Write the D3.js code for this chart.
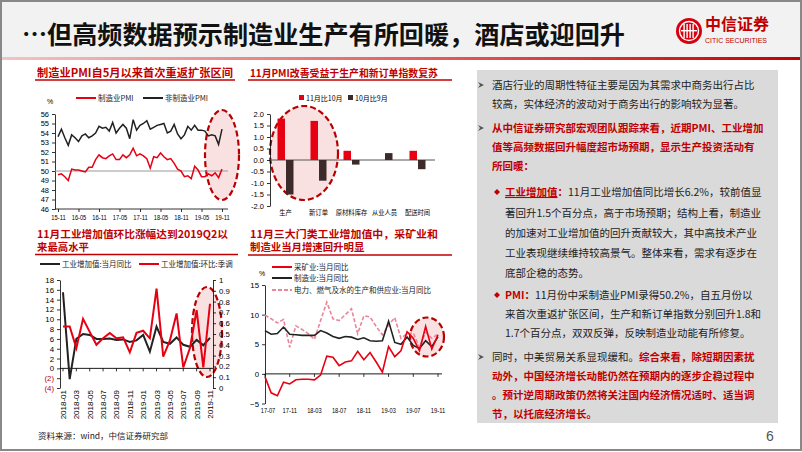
<!DOCTYPE html>
<html><head><meta charset="utf-8">
<script src="https://cdn.jsdelivr.net/npm/d3@7"></script>
<style>
body{margin:0;background:#fff;}
svg{display:block;}
</style></head><body>
<svg id="c" width="802" height="452"></svg>
<script>
// ---------------- DATA ----------------
// Chart 1: PMI, monthly 2015-11 .. 2019-11
const pmiTicks = ["15-11","16-05","16-11","17-05","17-11","18-05","18-11","19-05","19-11"];
const mfgPMI = [49.6,49.7,49.4,49.0,50.2,50.1,50.1,50.0,49.9,50.4,50.4,51.2,51.7,51.4,51.3,51.6,51.8,51.2,51.2,51.7,51.4,51.7,52.4,51.6,51.8,51.6,51.3,50.3,51.5,51.4,51.9,51.5,51.2,51.3,50.8,50.2,50.0,49.4,49.5,49.2,50.5,50.1,49.4,49.4,49.7,49.5,49.8,49.3,50.2];
const nonMfgPMI = [53.6,54.4,53.5,52.7,53.8,53.5,53.1,53.7,53.9,53.5,53.7,54.0,54.7,54.5,54.6,54.2,55.1,54.0,54.5,54.9,54.5,53.4,55.4,54.3,54.8,55.0,55.3,54.4,54.6,54.8,54.9,55.0,54.0,54.2,54.9,53.9,53.4,53.8,54.7,54.3,54.8,54.3,54.3,54.2,53.7,53.8,53.7,52.8,54.4];
const pmiYTicks = [46,47,48,49,50,51,52,53,54,55,56];

// Chart 2: PMI sub-indices changes
const subCats = ["生产","新订单","原材料库存","从业人员","配送时间"];
const novVsOct = [1.8,1.7,0.4,0.0,0.4];
const octVsSep = [-1.5,-0.9,-0.2,0.3,-0.4];
const subYTicks = [-2,-1.5,-1,-0.5,0,0.5,1,1.5,2];

// Chart 3: industrial value added, monthly 2018-01 .. 2019-11
const ipTicks = ["2018-01","2018-03","2018-05","2018-07","2018-09","2018-11","2019-01","2019-03","2019-05","2019-07","2019-09","2019-11"];
const ipYoY = [15.5,-2.2,6.0,7.0,6.8,6.0,6.0,6.1,5.8,5.9,5.4,5.7,6.8,3.4,8.5,5.4,5.0,6.3,4.8,4.4,5.8,4.7,6.2];
const ipMoM = [0.57,0.57,0.37,0.64,0.52,0.40,0.46,0.51,0.46,0.47,0.33,0.51,0.53,0.46,0.92,0.29,0.44,0.69,0.19,0.37,0.72,0.19,0.78];
const ipLeftTicks = [-4,-2,0,2,4,6,8,10,12,14,16,18];
const ipRightTicks = [0,0.1,0.2,0.3,0.4,0.5,0.6,0.7,0.8,0.9,1];

// Chart 4: three sectors, monthly 2017-07 .. 2019-11
const secTicks = ["17-07","17-11","18-03","18-07","18-11","19-03","19-07","19-11"];
const mining = [-0.5,-3.2,-3.7,-1.4,-1.7,-1.0,-0.9,-0.9,-1.0,-0.2,3.0,2.8,1.4,2.0,2.2,3.8,2.4,3.6,2.0,0.3,4.6,2.9,3.9,7.1,6.0,3.9,8.0,4.2,6.6];
const manufacturing = [7.3,6.7,6.8,7.9,6.7,6.6,6.5,6.5,6.5,7.3,6.9,6.3,6.0,6.3,6.2,5.8,6.1,5.6,5.5,5.6,8.9,5.3,5.0,6.2,4.8,4.3,5.6,4.6,6.3];
const utilities = [9.9,9.3,8.6,9.2,4.5,8.1,7.5,6.8,5.8,9.0,12.1,9.3,9.0,10.0,11.0,6.8,9.8,9.6,8.0,6.6,8.2,9.5,6.0,6.8,6.9,4.5,7.0,6.0,6.7];
const secYTicks = [-5,0,5,10,15];

// ---------------- DRAWING ----------------
const svg = d3.select("#c");
const RED = "#e60012", DRED = "#c00000", BLK = "#222", PINK = "#e8879b", BARK = "#3d2b2b";
const CJK = '"Noto Sans CJK SC","Noto Sans",sans-serif';
const NUM = '"Liberation Sans",Arial,sans-serif';

svg.append("rect").attr("width",802).attr("height",452).attr("fill","#fff");
svg.append("rect").attr("x",0).attr("y",0).attr("width",802).attr("height",57).attr("fill","#f2f2f2");
const defs = svg.append("defs");
const gr = defs.append("linearGradient").attr("id","tl");
gr.append("stop").attr("offset","0").attr("stop-color","#f3c4c4");
gr.append("stop").attr("offset","0.6").attr("stop-color","#e05050");
gr.append("stop").attr("offset","1").attr("stop-color","#c00000");
svg.append("rect").attr("x",0).attr("y",57).attr("width",802).attr("height",3).attr("fill","url(#tl)");

// title
svg.append("text").attr("x",22).attr("y",44).attr("font-family",CJK).attr("font-weight","bold")
  .attr("font-size",25).attr("fill","#111").attr("textLength",603).attr("lengthAdjust","spacingAndGlyphs")
  .text("…但高频数据预示制造业生产有所回暖，酒店或迎回升");

// logo
const lg = svg.append("g");
const LX = 689, LY = 31;
lg.append("circle").attr("cx",LX).attr("cy",LY).attr("r",13).attr("fill","#d7000f");
lg.append("circle").attr("cx",LX).attr("cy",LY).attr("r",9.5).attr("fill","none").attr("stroke","#fff").attr("stroke-width",1.4);
[-5,-2,1,4].forEach(dx=>lg.append("rect").attr("x",LX+dx-0.6).attr("y",LY-7).attr("width",1.4).attr("height",14).attr("fill","#fff"));
lg.append("rect").attr("x",LX-8).attr("y",LY-1).attr("width",16).attr("height",1.4).attr("fill","#fff");
lg.append("text").attr("x",705).attr("y",30).attr("font-family",CJK).attr("font-weight","bold").attr("font-size",16).attr("fill",DRED).text("中信证券");
lg.append("text").attr("x",705).attr("y",43).attr("font-family",NUM).attr("font-size",7).attr("fill",DRED)
  .attr("textLength",62).attr("lengthAdjust","spacingAndGlyphs").text("CITIC SECURITIES");

function chartTitle(lines, x, y0, fs, step, lineY, x1, x2, lens){
  lines.forEach((t,i)=>{
    const tt = svg.append("text").attr("x",x).attr("y",y0+i*step).attr("font-family",CJK).attr("font-weight","bold")
      .attr("font-size",fs).attr("fill",DRED).text(t);
    if(lens && lens[i]) tt.attr("textLength",lens[i]).attr("lengthAdjust","spacingAndGlyphs");
  });
  svg.append("line").attr("x1",x1).attr("x2",x2).attr("y1",lineY).attr("y2",lineY).attr("stroke",DRED).attr("stroke-width",1.5);
}
function styleAxis(g, fs){
  g.attr("font-size",fs).attr("font-family",NUM);
  g.selectAll("path.domain").attr("stroke","#000").attr("stroke-width",0.8);
  g.selectAll(".tick line").attr("stroke","#000").attr("stroke-width",0.8);
  g.selectAll("text").attr("fill","#000");
}
function ellipse(cx,cy,rx,ry){
  svg.append("ellipse").attr("cx",cx).attr("cy",cy).attr("rx",rx).attr("ry",ry)
    .attr("fill","#f5c9c9").attr("fill-opacity",0.55).attr("stroke","#b80000").attr("stroke-width",2.2).attr("stroke-dasharray","6,3");
}
function legLine(x,y,color,label,dash){
  svg.append("line").attr("x1",x).attr("x2",x+20).attr("y1",y).attr("y2",y).attr("stroke",color).attr("stroke-width",2).attr("stroke-dasharray",dash||null);
  svg.append("text").attr("x",x+22).attr("y",y+2.5).attr("font-family",CJK).attr("font-size",7.5).attr("fill","#222").text(label);
}

// ===== Chart 1 =====
chartTitle(["制造业PMI自5月以来首次重返扩张区间"],37,77,11,0,80,35,235,[196]);
legLine(76,98,RED,"制造业PMI");
legLine(143,98,BLK,"非制造业PMI");
svg.append("text").attr("x",47).attr("y",104).attr("font-family",NUM).attr("font-size",7).text("%");
const c1x = d3.scaleLinear().domain([0,mfgPMI.length-1]).range([58,222]);
const c1y = d3.scaleLinear().domain([46,56]).range([209,114]);
ellipse(222,155,17,45);
const a1 = svg.append("g").attr("transform","translate(55,0)")
  .call(d3.axisLeft(c1y).tickValues(pmiYTicks).tickSize(3).tickSizeOuter(0).tickFormat(d3.format("d")));
styleAxis(a1,7.5);
const c1p = d3.scalePoint().domain(pmiTicks).range([c1x(0),c1x(mfgPMI.length-1)]);
const a1b = svg.append("g").attr("transform","translate(0,209)").call(d3.axisBottom(c1p).tickSize(3).tickSizeOuter(0));
a1b.select("path.domain").attr("d","M55,0H228");
styleAxis(a1b,7);
a1b.selectAll(".tick text").attr("textLength",14.5).attr("lengthAdjust","spacingAndGlyphs");
svg.append("line").attr("x1",55).attr("x2",228).attr("y1",c1y(50)).attr("y2",c1y(50)).attr("stroke","#999").attr("stroke-width",1);
const l1 = d3.line().x((d,i)=>c1x(i)).y(d=>c1y(d));
svg.append("path").attr("d",l1(nonMfgPMI)).attr("fill","none").attr("stroke",BLK).attr("stroke-width",1.5);
svg.append("path").attr("d",l1(mfgPMI)).attr("fill","none").attr("stroke",RED).attr("stroke-width",1.5);

// ===== Chart 2 =====
chartTitle(["11月PMI改善受益于生产和新订单指数复苏"],250,77,10.5,0,80,248,452,[188]);
svg.append("rect").attr("x",299).attr("y",95).attr("width",5).attr("height",5).attr("fill",RED);
svg.append("text").attr("x",306).attr("y",100.5).attr("font-family",CJK).attr("font-size",7).text("11月比10月");
svg.append("rect").attr("x",348).attr("y",95).attr("width",5).attr("height",5).attr("fill",BARK);
svg.append("text").attr("x",355).attr("y",100.5).attr("font-family",CJK).attr("font-size",7).text("10月比9月");
const c2x = d3.scaleBand().domain(subCats).range([270,435]);
const c2y = d3.scaleLinear().domain([-2,2]).range([206,114]);
const c2s = d3.scaleBand().domain(["a","b"]).range([-9,7]).paddingInner(0.12);
ellipse(304,153,34,47);
const a2 = svg.append("g").attr("transform","translate(270,0)")
  .call(d3.axisLeft(c2y).tickValues(subYTicks).tickSize(3).tickSizeOuter(0).tickFormat(d=>d.toFixed(1)));
styleAxis(a2,7.5);
svg.append("line").attr("x1",270).attr("x2",435).attr("y1",c2y(0)).attr("y2",c2y(0)).attr("stroke","#555").attr("stroke-width",1);
const cc = c=>c2x(c)+c2x.bandwidth()/2;
svg.selectAll(".b1").data(novVsOct).join("rect")
  .attr("x",(d,i)=>cc(subCats[i])+c2s("a")).attr("width",c2s.bandwidth())
  .attr("y",d=>Math.min(c2y(d),c2y(0))).attr("height",d=>Math.abs(c2y(d)-c2y(0))).attr("fill",RED);
svg.selectAll(".b2").data(octVsSep).join("rect")
  .attr("x",(d,i)=>cc(subCats[i])+c2s("b")).attr("width",c2s.bandwidth())
  .attr("y",d=>Math.min(c2y(d),c2y(0))).attr("height",d=>Math.abs(c2y(d)-c2y(0))).attr("fill",BARK);
svg.selectAll(".cl").data(subCats).join("text").attr("x",d=>cc(d)-1).attr("y",215).attr("text-anchor","middle")
  .attr("font-family",CJK).attr("font-size",6.3).attr("fill","#000").text(d=>d);

// ===== Chart 3 =====
chartTitle(["11月工业增加值环比涨幅达到2019Q2以","来最高水平"],37,237.5,10.4,13.6,254.5,35,238,[191,null]);
legLine(40,264,BLK,"工业增加值:当月同比");
legLine(139,264,RED,"工业增加值:环比:季调");
const c3x = d3.scaleLinear().domain([0,ipYoY.length-1]).range([63,210]);
const c3yl = d3.scaleLinear().domain([-4,18]).range([388,280]);
const c3yr = d3.scaleLinear().domain([0,1]).range([388,280]);
ellipse(207,332,15,45);
const a3l = svg.append("g").attr("transform","translate(60,0)")
  .call(d3.axisLeft(c3yl).tickValues(ipLeftTicks).tickSize(3).tickSizeOuter(0).tickFormat(d=>d<0?"("+(-d)+")":d));
styleAxis(a3l,7.8);
a3l.selectAll(".tick text").attr("fill",d=>d<0?DRED:"#000");
const a3r = svg.append("g").attr("transform","translate(213,0)")
  .call(d3.axisRight(c3yr).tickValues(ipRightTicks).tickSize(3).tickSizeOuter(0).tickFormat(d=>d===0?"0":d===1?"1":d.toFixed(1)));
styleAxis(a3r,7.8);
svg.append("line").attr("x1",60).attr("x2",213).attr("y1",c3yl(0)).attr("y2",c3yl(0)).attr("stroke","#000").attr("stroke-width",0.9);
ipTicks.forEach((t,k)=>{
  const x = c3x(k*2);
  svg.append("line").attr("x1",x).attr("x2",x).attr("y1",c3yl(0)).attr("y2",c3yl(0)+3).attr("stroke","#000").attr("stroke-width",0.8);
  svg.append("text").attr("transform",`translate(${x+3},390) rotate(-90)`).attr("text-anchor","end")
    .attr("font-family",NUM).attr("font-size",8).attr("fill","#000").text(t);
});
svg.append("path").attr("d",d3.line().x((d,i)=>c3x(i)).y(d=>c3yl(d))(ipYoY)).attr("fill","none").attr("stroke",BLK).attr("stroke-width",2);
svg.append("path").attr("d",d3.line().x((d,i)=>c3x(i)).y(d=>c3yr(d))(ipMoM)).attr("fill","none").attr("stroke",RED).attr("stroke-width",2);

// ===== Chart 4 =====
chartTitle(["11月三大门类工业增加值中，采矿业和","制造业当月增速回升明显"],250,237.5,10.4,13.6,255,248,452,[188,null]);
legLine(272,267,RED,"采矿业:当月同比");
legLine(272,278,BLK,"制造业:当月同比");
legLine(272,290,PINK,"电力、燃气及水的生产和供应业:当月同比","4,2");
svg.append("text").attr("x",259).attr("y",276).attr("font-family",NUM).attr("font-size",7).text("%");
const c4x = d3.scaleLinear().domain([0,mining.length-1]).range([265,438]);
const c4y = d3.scaleLinear().domain([-5,15]).range([403.5,285]);
ellipse(427,337,17,19.5);
const a4 = svg.append("g").attr("transform","translate(265,0)")
  .call(d3.axisLeft(c4y).tickValues(secYTicks).tickSize(3).tickSizeOuter(0));
styleAxis(a4,7.8);
svg.append("line").attr("x1",265).attr("x2",442).attr("y1",c4y(0)).attr("y2",c4y(0)).attr("stroke","#000").attr("stroke-width",0.9);
secTicks.forEach((t,k)=>{
  const x = c4x(k*4);
  svg.append("line").attr("x1",x).attr("x2",x).attr("y1",c4y(0)).attr("y2",c4y(0)+3).attr("stroke","#000").attr("stroke-width",0.8);
  svg.append("text").attr("x",x+(k===0?3:0)).attr("y",413).attr("text-anchor","middle").attr("font-family",NUM).attr("font-size",7.2)
    .attr("textLength",14.5).attr("lengthAdjust","spacingAndGlyphs").attr("fill","#000").text(t);
});
const l4 = d3.line().x((d,i)=>c4x(i)).y(d=>c4y(d));
svg.append("path").attr("d",l4(utilities)).attr("fill","none").attr("stroke",PINK).attr("stroke-width",1.6).attr("stroke-dasharray","4,2");
svg.append("path").attr("d",l4(manufacturing)).attr("fill","none").attr("stroke",BLK).attr("stroke-width",1.6);
svg.append("path").attr("d",l4(mining)).attr("fill","none").attr("stroke",RED).attr("stroke-width",1.6);

// ===== Right text panel =====
svg.append("rect").attr("x",477).attr("y",70).attr("width",301).attr("height",353).attr("fill","#dadada");
const K="#222";
const lines = [
  {y:85,x:492,a:1,r:[["酒店行业的周期性特征主要是因为其需求中商务出行占比",K,0]]},
  {y:104,x:492,r:[["较高，实体经济的波动对于商务出行的影响较为显著。",K,0]]},
  {y:128,x:492,a:1,r:[["从中信证券研究部宏观团队跟踪来看，近期PMI、工业增加",DRED,1]]},
  {y:147,x:492,r:[["值等高频数据回升幅度超市场预期，显示生产投资活动有",DRED,1]]},
  {y:166,x:492,r:[["所回暖：",DRED,1]]},
  {y:192,x:505,d:1,r:[["工业增加值",DRED,1,1],["：",DRED,1],["11月工业增加值同比增长6.2%，较前值显",K,0]]},
  {y:213,x:505,r:[["著回升1.5个百分点，高于市场预期；结构上看，制造业",K,0]]},
  {y:233,x:505,r:[["的加速对工业增加值的回升贡献较大，其中高技术产业",K,0]]},
  {y:253,x:505,r:[["工业表现继续维持较高景气。整体来看，需求有逐步在",K,0]]},
  {y:273,x:505,r:[["底部企稳的态势。",K,0]]},
  {y:295,x:505,d:1,r:[["PMI：",DRED,1],["11月份中采制造业PMI录得50.2%，自五月份以",K,0]]},
  {y:314,x:505,r:[["来首次重返扩张区间，生产和新订单指数分别回升1.8和",K,0]]},
  {y:333,x:505,r:[["1.7个百分点，双双反弹，反映制造业动能有所修复。",K,0]]},
  {y:357,x:492,a:1,r:[["同时，中美贸易关系显现缓和。",K,0],["综合来看，除短期因素扰",DRED,1]]},
  {y:376,x:492,r:[["动外，中国经济增长动能仍然在预期内的逐步企稳过程中",DRED,1]]},
  {y:395,x:492,r:[["。预计逆周期政策仍然将关注国内经济情况适时、适当调",DRED,1]]},
  {y:414,x:492,r:[["节，以托底经济增长。",DRED,1]]}
];
lines.forEach(L=>{
  const t = svg.append("text").attr("x",L.x).attr("y",L.y+4).attr("font-family",CJK).attr("font-size",10.5);
  L.r.forEach(r=>{
    t.append("tspan").text(r[0]).attr("fill",r[1]).attr("font-weight",r[2]?"bold":"normal")
      .attr("text-decoration",r[3]?"underline":null);
  });
  if(L.a){
    svg.append("path").attr("d",`M478,${L.y-3} L484,${L.y} L478,${L.y+3} L480,${L.y} Z`).attr("fill","#555");
  }
  if(L.d){
    svg.append("path").attr("d",`M497,${L.y-3} L500,${L.y} L497,${L.y+3} L494,${L.y} Z`).attr("fill",DRED);
  }
});

// footer
svg.append("text").attr("x",38).attr("y",439).attr("font-family",CJK).attr("font-size",8.5).attr("fill","#222").text("资料来源：wind，中信证券研究部");
svg.append("text").attr("x",766).attr("y",441).attr("font-family",NUM).attr("font-size",14).attr("fill","#555").text("6");

// frame
svg.append("rect").attr("x",1).attr("y",1).attr("width",800).attr("height",449).attr("fill","none").attr("stroke","#888").attr("stroke-width",2);
</script></body></html>
